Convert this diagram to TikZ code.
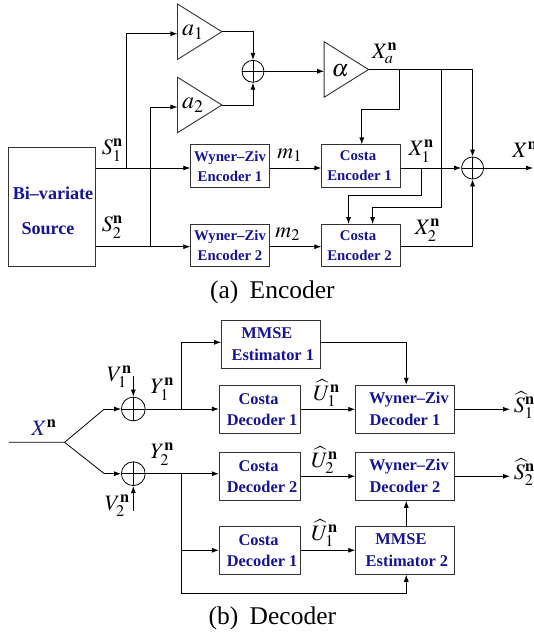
\documentclass[tikz,border=0pt]{standalone}
\usepackage{mathptmx}
\usepackage[no-math]{fontspec}
\setmainfont{Liberation Serif}
\usetikzlibrary{arrows.meta,shapes.geometric}
\definecolor{textblue}{RGB}{20,20,150}
\definecolor{linegray}{RGB}{50,50,50}
\newcommand{\bn}{\mathbf{n}}
\tikzset{
    block/.style={draw=linegray, line width=0.9pt, align=center, inner sep=0pt, text=textblue},
    encblock/.style={block, minimum width=78.5, minimum height=42.3, font=\fontsize{14.8}{20}\selectfont\bfseries},
    decblock/.style={block, minimum width=81.6, minimum height=48, font=\fontsize{16.4}{21}\selectfont\bfseries},
    estblock/.style={block, minimum width=98.4, minimum height=48, font=\fontsize{16.4}{22}\selectfont\bfseries},
    sumnode/.style={circle, draw=black, line width=0.8pt, inner sep=0pt, minimum size=#1,
        path picture={\draw[line width=0.8pt] (path picture bounding box.north) -- (path picture bounding box.south)
            (path picture bounding box.west) -- (path picture bounding box.east);}},
    gain/.style={isosceles triangle, isosceles triangle stretches, shape border rotate=0, draw=linegray, line width=0.9pt,
        inner sep=0pt, outer sep=0pt, minimum width=55.5, minimum height=44.4, anchor=apex},
    lbl/.style={font=\fontsize{22}{26}\selectfont, inner sep=0pt},
    gainlbl/.style={font=\fontsize{24}{28}\selectfont, inner sep=0pt},
    caption/.style={font=\fontsize{25.5}{30}\selectfont, inner sep=0pt},
}
\begin{document}
\begin{tikzpicture}[x=1.02pt, y=-1pt, >={Latex[length=7pt,width=5pt]}, line width=0.8pt, line join=miter]
    \useasboundingbox (0,0) rectangle (522.55,634);

    % Encoder
    \node[block, minimum width=87.1, minimum height=119.7, font=\fontsize{18.1}{34.7}\selectfont\bfseries] (source) at (51,206.8) {\rule{0pt}{21pt}\hspace*{2pt}Bi--variate\\\hspace*{-8pt}Source};
    \node[gain] (aone) at (217.5,31.7) {};
    \node[gain] (atwo) at (217.5,105) {};
    \node[gain] (alpha) at (361.3,69.5) {};
    \node[sumnode=22] (sumone) at (248,71.3) {};
    \node[sumnode=22] (sumtwo) at (463.3,168) {};
    \node[encblock] (wzone) at (225.5,166) {Wyner--Ziv\\Encoder 1};
    \node[encblock] (wztwo) at (225.5,245.7) {Wyner--Ziv\\Encoder 2};
    \node[encblock] (costaone) at (354,166) {\hspace*{-6pt}Costa\\\hspace*{-3pt}Encoder 1};
    \node[encblock] (costatwo) at (354,245.7) {\hspace*{-6pt}Costa\\\hspace*{-3pt}Encoder 2};
    \coordinate (rowone) at (0,168);
    \coordinate (rowtwo) at (0,246.7);
    \coordinate (Xout) at (522.55,168);
    \coordinate (branchone) at (124,168);
    \coordinate (branchtwo) at (147.7,246.7);
    \coordinate (ainone) at (174,33.7);
    \coordinate (aintwo) at (174,107);
    \coordinate (tapone) at (391.7,69.5);
    \coordinate (taptwo) at (432.7,69.5);
    \coordinate (tapthree) at (413.3,168);
    \coordinate (turnone) at (354.7,109.3);
    \coordinate (turntwo) at (365.3,207);
    \coordinate (turnthree) at (341.7,195.7);

    % S lines and the branches to the gains
    \draw[->] (source.east |- rowone) -- (wzone.west |- rowone);
    \draw[->] (source.east |- rowtwo) -- (wztwo.west |- rowtwo);
    \draw[->] (branchone) |- (ainone);
    \draw[->] (branchtwo) |- (aintwo);
    \draw[->] (aone.apex) -| (sumone.north);
    \draw[->] (atwo.apex) -| (sumone.south);
    \draw[->] (sumone.east) -- (alpha.west |- sumone.east);

    % Rows to the second adder
    \draw[->] (wzone.east |- rowone) -- (costaone.west |- rowone);
    \draw[->] (wztwo.east |- rowtwo) -- (costatwo.west |- rowtwo);
    \draw[->] (costaone.east |- rowone) -- (sumtwo.west);
    \draw[->] (costatwo.east |- rowtwo) -| (sumtwo.south);
    \draw[->] (alpha.apex) -| (sumtwo.north);
    \draw[->] (sumtwo.east) -- (Xout);

    % Feeds into the Costa encoders
    \draw[->] (tapone) |- (turnone) -- (turnone |- costaone.north);
    \draw[->] (taptwo) |- (turntwo) -- (turntwo |- costatwo.north);
    \draw[->] (tapthree) |- (turnthree) -- (turnthree |- costatwo.north);

    \node[gainlbl] (aonelbl) at (189,32) {$a_1$};
    \node[gainlbl] (atwolbl) at (189,105) {$a_2$};
    \node[gainlbl] (alphalbl) at (333.5,71) {$\alpha$};
    \node[lbl] (sonelbl) at (110,150) {$S_1^{\bn}$};
    \node[lbl] (stwolbl) at (110,227) {$S_2^{\bn}$};
    \node[lbl] (monelbl) at (284,155) {$m_1$};
    \node[lbl] (mtwolbl) at (282,234) {$m_2$};
    \node[lbl] (xalbl) at (377,53) {$X_a^{\bn}$};
    \node[lbl] (xonelbl) at (413,151) {$X_1^{\bn}$};
    \node[lbl] (xtwolbl) at (419,230) {$X_2^{\bn}$};
    \node[lbl, anchor=west] (xlbl) at (502,150) {$X^{\bn}$};
    \node[caption] (capa) at (267,292) {(a)\hspace{5pt} Encoder};

    % Decoder
    \node[estblock] (estone) at (265.5,344.5) {\hspace*{-8pt}MMSE\\\hspace*{4pt}Estimator 1};
    \node[decblock] (decone) at (255,409.3) {\hspace*{-3pt}Costa\\\hspace*{4pt}Decoder 1};
    \node[decblock] (dectwo) at (255,476.3) {\hspace*{-3pt}Costa\\\hspace*{4pt}Decoder 2};
    \node[decblock] (decthree) at (255,550.3) {\hspace*{-3pt}Costa\\\hspace*{4pt}Decoder 1};
    \node[estblock] (wzdecone) at (397,409.3) {\hspace*{8pt}Wyner--Ziv\\Decoder 1};
    \node[estblock] (wzdectwo) at (397,476.3) {\hspace*{8pt}Wyner--Ziv\\Decoder 2};
    \node[estblock] (esttwo) at (397,550.3) {\hspace*{-8pt}MMSE\\\hspace*{4pt}Estimator 2};
    \node[sumnode=23.8] (sumthree) at (130.7,409) {};
    \node[sumnode=23.8] (sumfour) at (130.7,473.7) {};
    \coordinate (Xin) at (8.7,442.3);
    \coordinate (fork) at (63.3,442.3);
    \coordinate (upper) at (102.3,409);
    \coordinate (lower) at (102.3,473.7);
    \coordinate (Vone) at (130.7,376);
    \coordinate (Vtwo) at (130.7,510.7);
    \coordinate (Shatone) at (500,409.3);
    \coordinate (Shattwo) at (500,476.3);
    \coordinate (splitone) at (177.7,409);
    \coordinate (splittwo) at (177.7,473.7);
    \coordinate (splitthree) at (177.7,550.3);
    \coordinate (estin) at (177.7,342.3);
    \coordinate (estdown) at (398.3,342.3);
    \coordinate (bus) at (398.3,593.3);

    \draw (Xin) -- (fork) -- (upper);
    \draw (fork) -- (lower);
    \draw[->] (upper) -- (sumthree.west);
    \draw[->] (lower) -- (sumfour.west);
    \draw[->] (Vone) -- (sumthree.north);
    \draw[->] (Vtwo) -- (sumfour.south);
    \draw[->] (sumthree.east) -- (decone.west |- sumthree.east);
    \draw[->] (sumfour.east) -- (dectwo.west |- sumfour.east);
    \draw[->] (splitone) |- (estone.west |- estin);
    \draw[->] (estone.east |- estin) -- (estdown) -- (estdown |- wzdecone.north);
    \draw[->] (decone.east) -- (wzdecone.west);
    \draw[->] (dectwo.east) -- (wzdectwo.west);
    \draw[->] (decthree.east) -- (esttwo.west);
    \draw[->] (wzdecone.east) -- (Shatone);
    \draw[->] (wzdectwo.east) -- (Shattwo);
    \draw[->] (bus |- esttwo.north) -- (bus |- wzdectwo.south);
    \draw[->] (splittwo) |- (bus) -- (bus |- esttwo.south);
    \draw[->] (splitthree) -- (decthree.west);

    \node[lbl] (xinlbl) at (43,428) {${\color{textblue}X}^{\bn}$};
    \node[lbl] (vonelbl) at (117,376.7) {$V_1^{\bn}$};
    \node[lbl] (vtwolbl) at (115,505.7) {$V_2^{\bn}$};
    \node[lbl] (yonelbl) at (159,389) {$Y_1^{\bn}$};
    \node[lbl] (ytwolbl) at (159,454) {$Y_2^{\bn}$};
    \node[lbl] (uonelbl) at (320,393) {$\widehat{U}_1^{\bn}$};
    \node[lbl] (utwolbl) at (318,460) {$\widehat{U}_2^{\bn}$};
    \node[lbl] (uthreelbl) at (318,533) {$\widehat{U}_1^{\bn}$};
    \node[lbl, anchor=west] (sonehat) at (503.5,405) {$\widehat{S}_1^{\bn}$};
    \node[lbl, anchor=west] (stwohat) at (503.5,472) {$\widehat{S}_2^{\bn}$};
    \node[caption] (capb) at (267,618) {(b)\hspace{5pt} Decoder};
\end{tikzpicture}
\end{document}
